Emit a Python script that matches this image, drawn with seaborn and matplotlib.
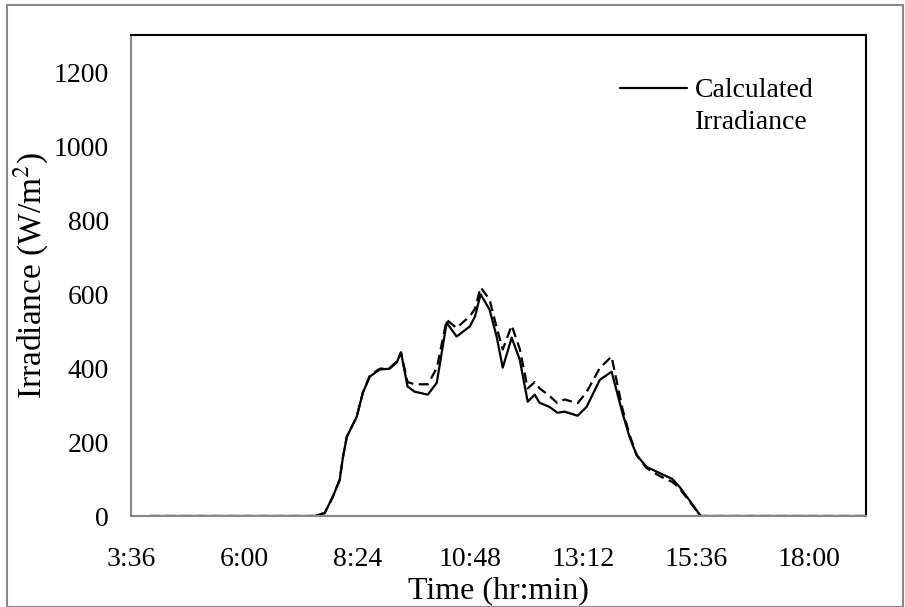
import matplotlib
matplotlib.use("Agg")
import matplotlib.pyplot as plt
from matplotlib.patches import Rectangle
from matplotlib.lines import Line2D
import seaborn as sns
import pandas as pd

# time in decimal hours
time_h = [4.0, 7.50, 7.71, 7.88, 8.03, 8.10, 8.18, 8.39, 8.52, 8.67, 8.88, 9.09, 9.24,
          9.33, 9.47, 9.62, 9.90, 10.09, 10.30, 10.51, 10.79, 10.90, 11.02, 11.21, 11.36,
          11.49, 11.68, 11.85, 12.02, 12.17, 12.27, 12.48, 12.65, 12.80, 13.08, 13.27,
          13.55, 13.80, 14.03, 14.18, 14.33, 14.54, 14.82, 15.09, 15.24, 15.45, 15.69, 19.19]
calculated = [0, 0, 8, 51, 98, 160, 214, 268, 333, 377, 396, 398, 415,
              442, 350, 336, 328, 360, 523, 485, 512, 539, 599, 558, 485,
              401, 482, 423, 309, 328, 306, 295, 279, 282, 271, 295,
              368, 390, 279, 214, 165, 133, 116, 100, 79, 43, 0, 0]
measured = [0, 0, 8, 51, 98, 160, 214, 268, 333, 380, 398, 400, 418,
            442, 362, 356, 356, 400, 530, 508, 540, 560, 618, 585, 510,
            450, 515, 452, 345, 362, 345, 325, 305, 315, 305, 335,
            400, 431, 290, 220, 165, 130, 108, 92, 75, 40, 0, 0]

x_ticks = [3.6, 6.0, 8.4, 10.8, 13.2, 15.6, 18.0]
x_tick_labels = ["3:36", "6:00", "8:24", "10:48", "13:12", "15:36", "18:00"]
y_ticks = [0, 200, 400, 600, 800, 1000, 1200]

df = pd.DataFrame({"time": time_h, "calc": calculated, "meas": measured})

sns.set_theme(style="white")
plt.rcParams["font.family"] = ["Liberation Serif", "DejaVu Serif"]
plt.rcParams["mathtext.fontset"] = "stix"
plt.rcParams["text.color"] = "black"
plt.rcParams["axes.labelcolor"] = "black"

fig = plt.figure(figsize=(9.05, 6.07), dpi=100)
ax = fig.add_axes([131/905, 1-516/607, (866-131)/905, (516-35)/607])

sns.lineplot(data=df, x="time", y="meas", ax=ax, color="black", linewidth=1.6,
             label="_nolegend_")
ax.lines[-1].set_dashes([4.5, 2.5])
sns.lineplot(data=df, x="time", y="calc", ax=ax, color="black", linewidth=1.6,
             label="Calculated")
calc_line = ax.lines[-1]

ax.set_xlim(3.6, 19.2)
ax.set_ylim(0, 1300)
ax.set_xticks(x_ticks)
ax.set_xticklabels(x_tick_labels)
ax.set_yticks(y_ticks)

ax.tick_params(axis="both", which="major", labelsize=20, colors="black",
               direction="out", length=6, width=1.2)
ax.tick_params(axis="x", pad=16, color="#888888")
ax.tick_params(axis="y", pad=10, color="#888888")

for side in ["left", "bottom"]:
    ax.spines[side].set_color("#888888")
    ax.spines[side].set_linewidth(1.5)
for side in ["top", "right"]:
    ax.spines[side].set_color("black")
    ax.spines[side].set_linewidth(1.5)
    ax.spines[side].set_visible(True)

ax.set_xlabel("Time (hr:min)", fontsize=23, labelpad=3)
ax.set_ylabel("Irradiance (W/m$^{2}$)", fontsize=24, labelpad=2)

blank = Line2D([], [], linestyle="none")
leg = ax.legend([calc_line, blank], ["Calculated", "Irradiance"],
                loc="upper left", bbox_to_anchor=((620-131)/735, (516-78)/481),
                frameon=False, fontsize=20, handlelength=2.4, handletextpad=0.3,
                borderpad=0, borderaxespad=0, labelspacing=0.22)

fig.patches.append(Rectangle((7/905, 0), 896/905, 1-5/607, transform=fig.transFigure,
                             fill=False, edgecolor="#888888", linewidth=1.5))

fig.savefig("out.png", dpi=100)
